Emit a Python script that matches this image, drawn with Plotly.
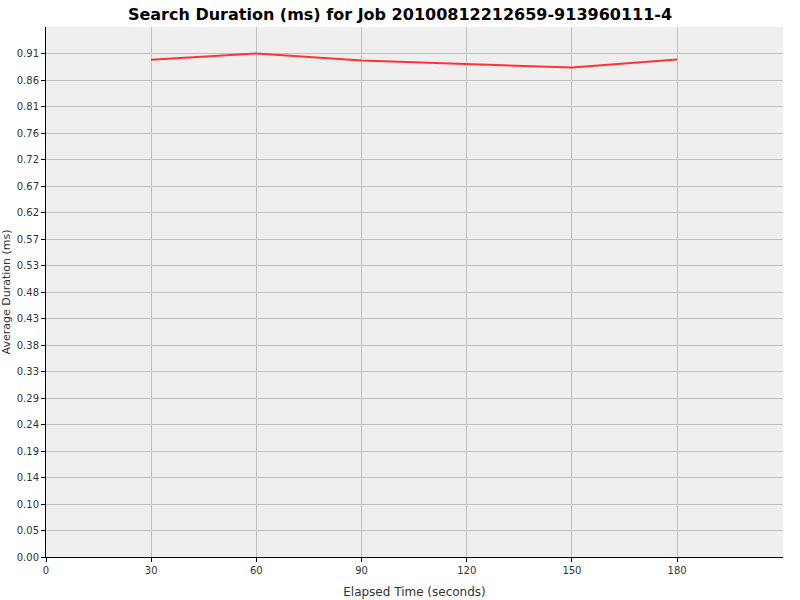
import plotly.graph_objects as go

# elapsed time (s) and average search duration (ms)
elapsed = [30, 60, 90, 120, 150, 180]
avg_duration = [0.8961, 0.9073, 0.8945, 0.8876, 0.8820, 0.8964]

# y ticks in JFreeChart style: fixed step, labels rounded to 2 decimals
y_step = 0.04775
y_ticks = [i * y_step for i in range(20)]
y_labels = ['%.2f' % v for v in y_ticks]
x_ticks = [0, 30, 60, 90, 120, 150, 180]

fig = go.Figure()

fig.add_trace(go.Scatter(
    x=elapsed,
    y=avg_duration,
    mode='lines',
    line=dict(color='#ff3333', width=2),
    showlegend=False
))

axis_font = dict(family='DejaVu Sans', size=10, color='#333333')

fig.update_layout(
    width=800,
    height=600,
    paper_bgcolor='white',
    plot_bgcolor='#efefef',
    margin=dict(l=46, r=17, t=27, b=43),
    title=dict(
        text='<b>Search Duration (ms) for Job 20100812212659-913960111-4</b>',
        x=0.5, xanchor='center', y=0.976, yanchor='middle',
        yref='container',
        font=dict(family='DejaVu Sans', size=16, color='black')
    ),
    xaxis=dict(
        range=[0, 210.2],
        tickvals=x_ticks,
        ticks='outside', ticklen=4, tickcolor='black',
        showline=True, linecolor='black', linewidth=1,
        showgrid=True, gridcolor='#c0c0c0', gridwidth=1,
        zeroline=False, automargin=False,
        tickfont=axis_font,
        title=dict(text='Elapsed Time (seconds)', standoff=12,
                   font=dict(family='DejaVu Sans', size=12, color='#333333'))
    ),
    yaxis=dict(
        range=[0, 0.955],
        tickvals=y_ticks,
        ticktext=y_labels,
        ticks='outside', ticklen=4, tickcolor='black',
        showline=True, linecolor='black', linewidth=1,
        showgrid=True, gridcolor='#c0c0c0', gridwidth=1,
        zeroline=False, automargin=False,
        tickfont=axis_font,
        title=dict(text='Average Duration (ms)', standoff=6,
                   font=dict(family='DejaVu Sans', size=11, color='#333333'))
    )
)

# the default page has an 8px body margin; drop it so the figure fills the window
fig.write_html('out.html', config={'displayModeBar': False},
               post_script="document.body.style.margin = '0';")
